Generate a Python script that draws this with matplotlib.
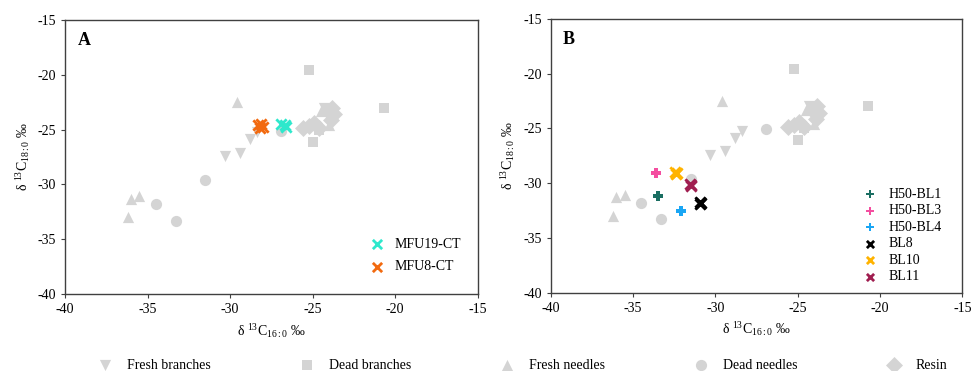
import numpy as np
import matplotlib
matplotlib.use("Agg")
import matplotlib.pyplot as plt

plt.rcParams['font.family'] = ['Liberation Serif', 'DejaVu Serif']
plt.rcParams['mathtext.fontset'] = 'custom'
plt.rcParams['mathtext.rm'] = 'Liberation Serif'
plt.rcParams['mathtext.it'] = 'Liberation Serif:italic'
plt.rcParams['axes.unicode_minus'] = False

# reference material (grey background points), x = d13C16:0, y = d13C18:0
fresh_branches_x = [-30.3, -29.4, -28.8, -28.4, -24.3]
fresh_branches_y = [-27.4, -27.1, -25.9, -25.2, -23.0]
dead_branches_x = [-25.2, -20.7, -25.0, -24.6]
dead_branches_y = [-19.6, -23.0, -26.1, -25.0]
fresh_needles_x = [-29.6, -36.0, -35.5, -36.2, -24.5, -24.0]
fresh_needles_y = [-22.5, -31.3, -31.1, -33.0, -23.3, -24.6]
dead_needles_x = [-31.5, -34.5, -33.3, -26.9]
dead_needles_y = [-29.6, -31.8, -33.3, -25.1]
resin_x = [-25.6, -25.2, -24.9, -24.6, -24.1, -23.8, -23.7, -23.9]
resin_y = [-24.9, -24.7, -24.4, -24.9, -23.3, -23.0, -23.6, -24.1]

# panel A samples
mfu19_x = [-26.9, -26.7, -26.6]
mfu19_y = [-24.5, -24.6, -24.8]
mfu8_x = [-28.3, -28.1, -28.0, -28.2]
mfu8_y = [-24.6, -24.5, -24.8, -24.9]

# panel B samples
bl1_x, bl1_y = [-33.5], [-31.2]
bl3_x, bl3_y = [-33.6], [-29.1]
bl4_x, bl4_y = [-32.1], [-32.5]
bl8_x, bl8_y = [-30.95, -30.85, -30.9], [-31.7, -31.8, -31.85]
bl10_x, bl10_y = [-32.45, -32.35, -32.4], [-29.0, -29.1, -29.15]
bl11_x, bl11_y = [-31.55, -31.45, -31.5], [-30.1, -30.2, -30.25]

grey = '#d4d4d4'
ms = 65

xlab = r'δ $^{13}$C$_{16:0}$ ‰'
ylab = r'δ $^{13}$C$_{18:0}$ ‰'

fig = plt.figure(figsize=(9.71, 3.71), dpi=100)
axA = fig.add_axes([0.067, 0.2075, 0.425, 0.739])
axB = fig.add_axes([0.567, 0.2105, 0.424, 0.739])


def background(ax):
    h = []
    h.append(ax.scatter(fresh_branches_x, fresh_branches_y, s=ms, marker='v', color=grey, linewidths=0, label='Fresh branches'))
    h.append(ax.scatter(dead_branches_x, dead_branches_y, s=ms - 5, marker='s', color=grey, linewidths=0, label='Dead branches'))
    h.append(ax.scatter(fresh_needles_x, fresh_needles_y, s=ms, marker='^', color=grey, linewidths=0, label='Fresh needles'))
    h.append(ax.scatter(dead_needles_x, dead_needles_y, s=ms, marker='o', color=grey, linewidths=0, label='Dead needles'))
    h.append(ax.scatter(resin_x, resin_y, s=ms + 10, marker='D', color=grey, linewidths=0, label='Resin'))
    return h


def style(ax, letter):
    ax.set_xlim(-40, -15)
    ax.set_ylim(-40, -15)
    ax.set_xticks(np.arange(-40, -14, 5))
    ax.set_yticks(np.arange(-40, -14, 5))
    ax.tick_params(labelsize=10, length=3, width=0.8, colors='#404040', labelcolor='black')
    for s in ax.spines.values():
        s.set_color('#404040')
        s.set_linewidth(1.0)
    ax.set_xlabel(xlab, fontsize=10, labelpad=4)
    ax.set_ylabel(ylab, fontsize=10, labelpad=4)
    ax.text(0.03, 0.955, letter, transform=ax.transAxes, fontsize=13, fontweight='bold', va='top')


handles = background(axA)
background(axB)

a1 = axA.scatter(mfu19_x, mfu19_y, s=55, marker='x', color='#2ee8cc', linewidths=2, label='MFU19-CT')
a2 = axA.scatter(mfu8_x, mfu8_y, s=55, marker='x', color='#f26a10', linewidths=2, label='MFU8-CT')
axA.legend(handles=[a1, a2], loc='lower right', bbox_to_anchor=(0.99, 0.03), frameon=False,
           fontsize=10, handletextpad=0.3, labelspacing=0.7, markerscale=0.9)

b1 = axB.scatter(bl1_x, bl1_y, s=60, marker='P', color='#1a6e62', linewidths=0, label='H50-BL1')
b2 = axB.scatter(bl3_x, bl3_y, s=60, marker='P', color='#f44ea0', linewidths=0, label='H50-BL3')
b3 = axB.scatter(bl4_x, bl4_y, s=60, marker='P', color='#1aa6f4', linewidths=0, label='H50-BL4')
b4 = axB.scatter(bl8_x, bl8_y, s=55, marker='x', color='black', linewidths=2, label='BL8')
b5 = axB.scatter(bl10_x, bl10_y, s=55, marker='x', color='#ffb300', linewidths=2, label='BL10')
b6 = axB.scatter(bl11_x, bl11_y, s=55, marker='x', color='#a01e50', linewidths=2, label='BL11')
axB.legend(handles=[b1, b2, b3, b4, b5, b6], loc='lower right', bbox_to_anchor=(0.98, -0.01), frameon=False,
           fontsize=10, handletextpad=0.3, labelspacing=0.25, markerscale=0.7)

style(axA, 'A')
style(axB, 'B')

fig.legend(handles=handles, loc='center', bbox_to_anchor=(0.535, 0.015), ncol=5, frameon=False,
           fontsize=10, handletextpad=0.6, columnspacing=5.9, markerscale=1.0)

fig.savefig('out.png', dpi=100)
